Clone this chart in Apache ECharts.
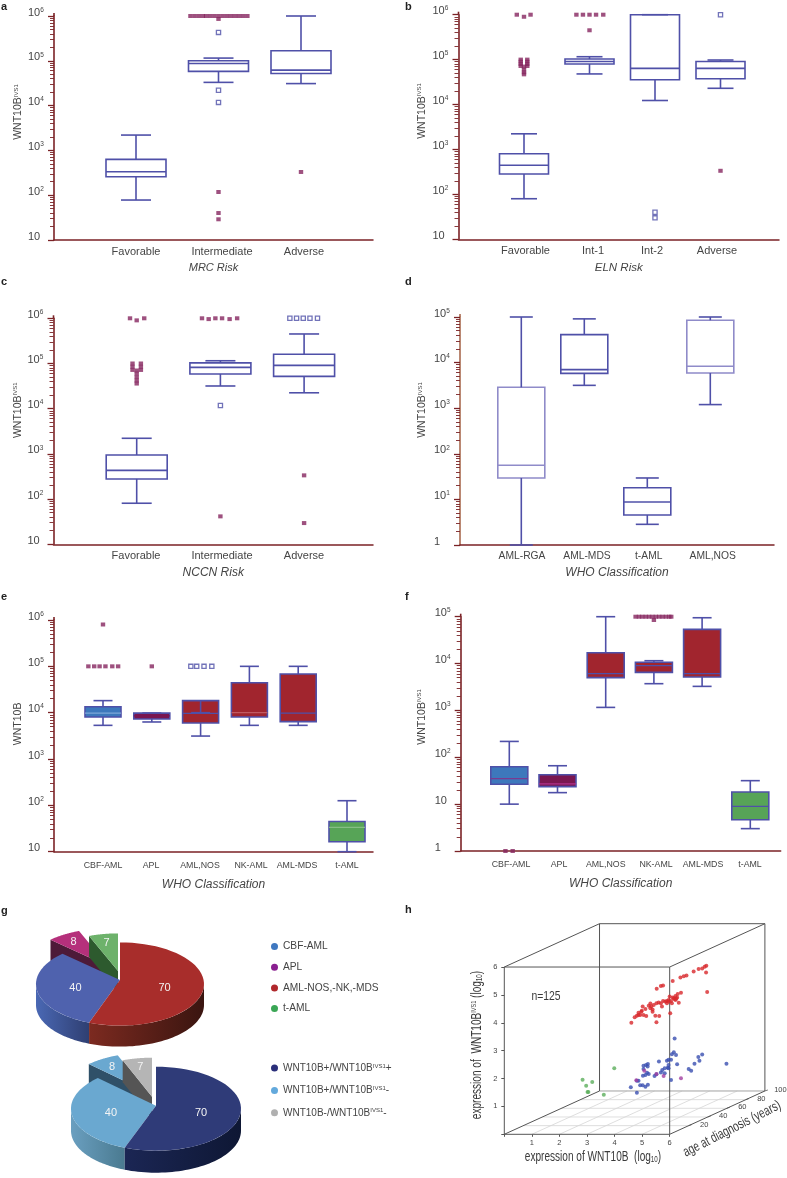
<!DOCTYPE html>
<html><head><meta charset="utf-8">
<style>html,body{margin:0;padding:0;background:#fff}#c{width:787px;height:1178px}</style>
<script src="https://cdn.jsdelivr.net/npm/echarts@6/dist/echarts.min.js"></script>
</head><body><div id="c"></div>
<script>
// ---- Panel a
const catsA=['Favorable','Intermediate','Adverse'];
const boxA=[[1,78,258,335,630,2200],[2,33000,58000,87000,100000,115000],[3,31000,52000,62000,168000,1000000]];
const filledA=[[1.66,1e6],[1.71,1e6],[1.76,1e6],[1.81,1e6],[1.85,1e6],[1.9,1e6],[1.95,1e6],[2,860000],[2,1e6],[2.05,1e6],[2.1,1e6],[2.15,1e6],[2.2,1e6],[2.25,1e6],[2.3,1e6],[2.35,1e6],[2,118],[2,40],[2,29],[3,330]];
const openA=[[2,430000],[2,22000],[2,11800]];
// ---- Panel b
const catsB=['Favorable','Int-1','Int-2','Adverse'];
const boxB=[[1,80,284,444,805,2230],[2,48000,80000,91000,103000,116000],[3,12300,35500,64000,1000000,1000000],[4,23000,37500,64000,91000,98000]];
const filledB=[[0.89,1e6],[1,900000],[1.1,1e6],[0.95,100000],[0.95,90000],[0.95,80000],[0.95,72000],[1.05,100000],[1.05,90000],[1.05,80000],[1.05,72000],[1,70000],[1,60000],[1,52000],[1,47000],[1.8,1e6],[1.9,1e6],[2,1e6],[2.1,1e6],[2.21,1e6],[2,450000],[4,335]];
const openB=[[3,40],[3,30],[4,1e6]];
// ---- Panel c
const catsC=['Favorable','Intermediate','Adverse'];
const boxC=[[1,81,279,433,946,2215],[2,31800,58600,82000,103000,115000],[3,22500,52000,91000,160000,450000]];
const filledC=[[0.92,1e6],[1,900000],[1.09,1e6],[0.95,100000],[0.95,85000],[0.95,72000],[1.05,100000],[1.05,85000],[1.05,72000],[1,70000],[1,60000],[1,50000],[1,42000],[1,36000],[1.78,1e6],[1.86,960000],[1.94,1e6],[2.02,1e6],[2.11,960000],[2.2,1e6],[2,41.5],[3,335],[3,29.5]];
const openC=[[2,11800],[2.83,1e6],[2.91,1e6],[2.99,1e6],[3.07,1e6],[3.16,1e6]];
// ---- Panel d
const catsD=['AML-RGA','AML-MDS','t-AML','AML,NOS'];
const boxD=[[1,1,29.5,56,2870,100000],[2,3170,5800,7000,41000,91000],[3,2.84,4.55,8.8,18,29.5],[4,1200,5900,8300,85000,100000]];
// ---- Panel e
const catsE=['CBF-AML','APL','AML,NOS','NK-AML','AML-MDS','t-AML'];
const boxE=[[1,5330,8050,9800,13400,18200],[2,6300,7300,8500,9800,9800],[3,3130,6000,9700,18200,10000],[4,5330,8050,10000,44400,100000],[5,5330,6400,9800,68400,100000],[6,10,16.4,33.5,45,126]];
const filledE=[[1,800000],[0.7,1e5],[0.82,1e5],[0.93,1e5],[1.05,1e5],[1.19,1e5],[1.31,1e5],[2,1e5]];
const openE=[[2.8,1e5],[2.92,1e5],[3.07,1e5],[3.23,1e5]];
// ---- Panel f
const catsF=['CBF-AML','APL','AML,NOS','NK-AML','AML-MDS','t-AML'];
const boxF=[[1,10,26.5,35,63,218],[2,17.6,23.6,27,42.5,66],[3,1160,5000,6080,17000,1e5],[4,3720,6480,9000,10700,11500],[5,3260,5160,6080,53700,95000],[6,3,4.66,9,18.2,31.7]];
const filledF=[[0.92,1],[1.07,1],[3.62,1e5],[3.69,1e5],[3.76,1e5],[3.83,1e5],[3.9,1e5],[3.97,1e5],[4.04,1e5],[4.11,1e5],[4.18,1e5],[4.25,1e5],[4.32,1e5],[4.36,1e5],[4,85000]];
// ---- Panel g
const pieValues=[70,40,8,7];
const pieNamesTop=['AML-NOS,-NK,-MDS','CBF-AML','APL','t-AML'];
const pieNamesBottom=['WNT10B+/WNT10BIVS1+','WNT10B+/WNT10BIVS1-','WNT10B+/WNT10BIVS1-','WNT10B-/WNT10BIVS1-'];
// ---- Panel h (values read on the front face scale of the projected cube)
const hRed=[[7.33,6.05],[7.27,6.01],[7.18,5.95],[7.05,5.93],[6.87,5.84],[6.61,5.7],[6.51,5.67],[6.39,5.62],[6.11,5.5],[5.76,5.34],[5.68,5.32],[5.53,5.22],[7.32,5.8],[7.36,5.1],[6.41,5.08],[6.29,5.03],[6.21,4.96],[6.27,4.91],[6.11,4.91],[6.17,4.85],[6,4.94],[5.96,4.82],[6.05,4.78],[6.21,4.82],[6.33,4.72],[6.08,4.7],[5.96,4.76],[5.84,4.76],[5.76,4.78],[5.9,4.7],[5.6,4.73],[5.52,4.7],[5.42,4.64],[5.3,4.69],[5.33,4.58],[5.24,4.61],[5.38,4.48],[5.3,4.52],[5.12,4.49],[5.02,4.58],[4.99,4.43],[4.87,4.36],[5.05,4.28],[4.93,4.28],[4.81,4.25],[4.73,4.2],[4.61,4],[5.15,4.24],[5.48,4.25],[5.62,4.24],[5.52,4.02],[5.72,4.58],[6.02,4.34],[5.38,4.4],[4.87,4.28],[4.97,4.4],[6.15,4.88],[6.24,4.86],[5.9,4.78],[5.68,4.7]];
const hBlue=[[6.18,3.44],[6.15,2.94],[6.08,2.87],[6.23,2.84],[5.96,2.67],[6.05,2.67],[5.9,2.64],[5.61,2.61],[6.27,2.51],[5.21,2.52],[5.14,2.49],[5.05,2.46],[5.2,2.43],[5.05,2.34],[7.18,2.86],[7.04,2.77],[7.08,2.64],[6.9,2.53],[8.06,2.53],[6.69,2.34],[6.78,2.28],[5.96,2.49],[5.93,2.39],[5.82,2.37],[5.73,2.31],[5.68,2.22],[5.82,2.19],[5.96,2.37],[5.18,2.21],[5.24,2.16],[5.12,2.13],[5.03,2.1],[5.45,2.09],[5.52,2.15],[6.05,1.95],[4.87,1.92],[4.81,1.92],[5.21,1.78],[5.12,1.71],[5.02,1.76],[4.93,1.76],[4.59,1.69],[4.81,1.49]];
const hPurple=[[5.08,2.28],[5.52,2.16],[5.78,2.09],[6.41,2.01],[4.79,1.94]];
const hGreen=[[3.99,2.37],[2.84,1.96],[3.19,1.88],[2.97,1.74],[3.02,1.52],[3.05,1.52],[3.61,1.42]];
const hTicks=[1,2,3,4,5,6];
const ageTicks=[20,40,60,80,100];

// ---- styling / layout
const AX='#7b2226', BLUE='#4f50a8', LIGHT='#8f8bc9', TXT='#454545', PUR='#86265f';
const panels=[
 {cats:catsA,box:boxA,filled:filledA,open:openA,yName:'WNT10B{s|IVS1}',title:'MRC Risk',left:54,top:16,w:319,h:224,c0:136,sp:82.5,labels:[136,222,304],bw:60,cw:30,lo:1,hi:6,fs:11,tfs:11,tgap:22,plain10:true,yGap:28,yUp:16},
 {cats:catsB,box:boxB,filled:filledB,open:openB,yName:'WNT10B{s|IVS1}',title:'ELN Risk',left:458.5,top:14.7,w:320.5,h:224.6,c0:524,sp:65.5,labels:[525.5,593,652,717],bw:49,cw:26,lo:1,hi:6,fs:11,tfs:11.5,tgap:22,plain10:true,yGap:31,yUp:16},
 {cats:catsC,box:boxC,filled:filledC,open:openC,yName:'WNT10B{s|IVS1}',title:'NCCN Risk',left:53.5,top:318.3,w:319.5,h:226,c0:136.7,sp:83.7,labels:[136,222,304],bw:61,cw:30,lo:1,hi:6,fs:11,tfs:12,tgap:22,plain10:true,yGap:28,yUp:21},
 {cats:catsD,box:boxD,filled:[],open:[],yName:'WNT10B{s|IVS1}',title:'WHO Classification',left:460,top:317,w:314,h:228,c0:521.3,sp:63,labels:[522,587,648.7,712.7],bw:47,cw:23,lo:0,hi:5,fs:10.3,tfs:12,tgap:22,plain10:false,yGap:32,yUp:21,strokes:[LIGHT,BLUE,BLUE,LIGHT],yLine:'#a9694f'},
 {cats:catsE,box:boxE,filled:filledE,open:openE,yName:'WNT10B',title:'WHO Classification',left:54,top:620,w:319,h:231.7,c0:103,sp:48.8,labels:[103,151,200,251,297,347],bw:36,cw:19,lo:1,hi:6,fs:8.8,tfs:12,tgap:27,plain10:true,yGap:28,yUp:12,fills:['#3d78bc','#7a1650','#a1252e','#a1252e','#a1252e','#57a457'],medians:['#7ea8d8','#7a1650',BLUE,'#c05a62',BLUE,'#86bd85']},
 {cats:catsF,box:boxF,filled:filledF,open:[],yName:'WNT10B{s|IVS1}',title:'WHO Classification',left:460.7,top:616.7,w:320,h:234.3,c0:509.3,sp:48.2,labels:[511,559,605.7,656,703,750],bw:37,cw:19,lo:0,hi:5,fs:8.8,tfs:12,tgap:27,plain10:true,yGap:33,yUp:17,fills:['#3d78bc','#7a1650','#a1252e','#a1252e','#a1252e','#57a457'],medians:['#7a3a90','#b0308a',BLUE,BLUE,BLUE,BLUE]}
];
const grid=[],xAxis=[],yAxis=[],series=[];
const supRich={s:{fontSize:6.5,fill:TXT,color:TXT,verticalAlign:'top',padding:[0,0,5,0]}};

function boxRenderer(p,xmin){
 return function(params,api){
  const i=params.dataIndex, x=api.value(0);
  const P=v=>api.coord([x,v]);
  const lo=P(api.value(1)),q1=P(api.value(2)),md=P(api.value(3)),q3=P(api.value(4)),hi=P(api.value(5));
  const cx=lo[0],hb=p.bw/2,hc=p.cw/2;
  const fill=p.fills?p.fills[i]:'none';
  const stroke=p.strokes?p.strokes[i]:BLUE;
  const line=(x1,y1,x2,y2,c,w)=>({type:'line',shape:{x1,y1,x2,y2},style:{stroke:c,lineWidth:w||1.6,fill:'none'}});
  const ch=[
   {type:'rect',shape:{x:cx-hb,y:q3[1],width:p.bw,height:q1[1]-q3[1]},style:{fill:fill==='none'?'rgba(0,0,0,0)':fill,stroke:p.fills?BLUE:stroke,lineWidth:1.6}},
   line(cx-hb,md[1],cx+hb,md[1],p.medians?p.medians[i]:stroke,p.medians?1.2:1.6),
   line(cx,lo[1],cx,q1[1],BLUE),line(cx,q3[1],cx,hi[1],BLUE),
   line(cx-hc,lo[1],cx+hc,lo[1],BLUE),line(cx-hc,hi[1],cx+hc,hi[1],BLUE)
  ];
  if(i===0){const t=api.coord([xmin,Math.pow(10,p.hi)]);ch.push(line(t[0],t[1],t[0],t[1]-3,p.yLine||AX,1.6));}
  return {type:'group',children:ch};
 };
}
const decades=(lo,hi)=>{const o=[];for(let d=lo;d<hi;d++)for(let k=2;k<=9;k++)o.push(d+Math.log10(k));return o;};

panels.forEach((p,i)=>{
 grid.push({left:p.left,top:p.top,width:p.w,height:p.h});
 const xmin=1-(p.c0-p.left)/p.sp, xmax=xmin+p.w/p.sp;
 const lab=p.labels.map(px=>xmin+(px-p.left)/p.sp);
 xAxis.push({gridIndex:i,type:'value',min:xmin,max:xmax,splitLine:{show:false},
  axisLine:{onZero:false,lineStyle:{color:AX,width:1.5}},axisTick:{show:false},
  axisLabel:{customValues:lab,color:TXT,fontSize:p.fs,margin:p.fs<10?9:6,hideOverlap:false,showMinLabel:true,showMaxLabel:true,
   formatter:v=>{let b=0,d=1e9;lab.forEach((l,k)=>{if(Math.abs(l-v)<d){d=Math.abs(l-v);b=k;}});return p.cats[b];}},
  name:p.title,nameLocation:'middle',nameGap:p.tgap,
  nameTextStyle:{color:TXT,fontStyle:'italic',fontSize:p.tfs}});
 const yi=yAxis.length;
 yAxis.push({gridIndex:i,type:'log',position:'left',logBase:10,min:Math.pow(10,p.lo),max:Math.pow(10,p.hi),splitLine:{show:false},
  axisLine:{onZero:false,lineStyle:{color:p.yLine||AX,width:1.6}},axisTick:{length:6,lineStyle:{color:AX,width:1.3}},minorTick:{show:false},
  axisLabel:{color:TXT,fontSize:11,align:'left',margin:26,padding:[0,0,7,0],rich:supRich,showMinLabel:true,showMaxLabel:true,hideOverlap:false,
   formatter:v=>{const e=Math.round(Math.log10(v));if(e===0)return '1';if(e===1&&p.plain10)return '10';return '10{s|'+e+'}';}},
  name:p.yName,nameLocation:'middle',nameRotate:90,nameGap:p.yGap,
  nameTextStyle:{color:TXT,fontSize:10.5,padding:[0,0,0,p.yUp*2],rich:{s:{fontSize:6,color:TXT,verticalAlign:'top'}}}});
 yAxis.push({gridIndex:i,type:'value',position:'left',min:p.lo,max:p.hi,splitLine:{show:false},axisLine:{show:false,onZero:false},axisLabel:{show:false},
  axisTick:{show:true,length:4,customValues:decades(p.lo,p.hi),lineStyle:{color:AX,width:0.9}}});
 series.push({type:'custom',name:'box'+i,xAxisIndex:i,yAxisIndex:yi,clip:false,silent:true,encode:{x:0,y:[1,2,3,4,5]},data:p.box,renderItem:boxRenderer(p,xmin)});
 if(p.filled.length)series.push({type:'scatter',xAxisIndex:i,yAxisIndex:yi,clip:false,silent:true,symbol:'rect',symbolSize:[4.4,4],itemStyle:{color:PUR},data:p.filled,z:3});
 if(p.open.length)series.push({type:'scatter',xAxisIndex:i,yAxisIndex:yi,clip:false,silent:true,symbol:'rect',symbolSize:4.2,itemStyle:{color:'#fff',borderColor:BLUE,borderWidth:1.3},data:p.open,z:3});
});

// ---- pies (panel g)
const pies=[
 {cx:120,cy:984,apexDy:-4,rx:84,ry:41.6,depth:21,names:pieNamesTop,shifts:[[0,0],[0,0],[-12,-14],[-2,-9]],
  colors:['#a82d2b','#4f62ae','#b5307b','#6db26b'],sides:[['#7c2a20','#3a1510'],['#4a68b4','#2f3f72'],null,null],walls:[null,null,'#4d1a38','#2d5a2e'],legend:['#b0282c','#3f78c0','#8a2090','#3aa655']},
 {cx:156,cy:1108.7,apexDy:-3,rx:85,ry:42,depth:22,names:pieNamesBottom,shifts:[[0,0],[0,0],[-9,-14],[-4,-9]],
  colors:['#2f3b78','#6aa8d0','#6aa8d0','#b5b5b5'],sides:[['#1b2654','#0e1734'],['#6a9fc0','#4a7a90'],null,null],walls:[null,null,'#2f5068','#555555'],legend:['#2a2f7a','#63a9dc','#63a9dc','#b0b0b0']}
];
const total=pieValues.reduce((a,b)=>a+b,0);
function pieRenderer(pie,i){
 return function(params,api){
  let before=0;for(let k=0;k<i;k++)before+=pieValues[k];
  const a0=before/total*2*Math.PI,a1=(before+api.value(0))/total*2*Math.PI;
  const [sx,sy]=pie.shifts[i];
  const pt=t=>[pie.cx+sx+pie.rx*Math.sin(t),pie.cy+sy-pie.ry*Math.cos(t)];
  const arc=(s,e)=>{const o=[];const n=48;for(let k=0;k<=n;k++)o.push(pt(s+(e-s)*k/n));return o;};
  const apex=[pie.cx+sx,pie.cy+sy+pie.apexDy];
  const ch=[];
  if(pie.walls[i]){
   const c=pt(a0);
   ch.push({type:'polygon',shape:{points:[c,[c[0],c[1]+pie.depth],[apex[0],apex[1]+pie.depth],apex]},style:{fill:pie.walls[i]}});
  }
  if(pie.sides[i]){
   const s=Math.max(a0,Math.PI/2),e=Math.min(a1,1.5*Math.PI);
   if(e>s){
    const up=arc(s,e),down=up.slice().reverse().map(q=>[q[0],q[1]+pie.depth]);
    ch.push({type:'polygon',shape:{points:up.concat(down)},style:{fill:{type:'linear',x:0,y:0,x2:1,y2:0,colorStops:[{offset:0,color:pie.sides[i][0]},{offset:1,color:pie.sides[i][1]}]}}});
   }
  }
  ch.push({type:'polygon',shape:{points:[apex].concat(arc(a0,a1))},style:{fill:pie.colors[i]}});
  const mid=(a0+a1)/2,f=(sx||sy)?0.78:0.54;
  ch.push({type:'text',style:{text:String(api.value(0)),x:pie.cx+sx+pie.rx*f*Math.sin(mid),y:pie.cy+sy-pie.ry*f*Math.cos(mid),fill:'#f4f4f4',fontSize:11,fontFamily:'Liberation Sans',textAlign:'center',textVerticalAlign:'middle'}});
  return {type:'group',children:ch};
 };
}
pies.forEach(pie=>{[2,3,1,0].forEach(i=>{
 series.push({type:'custom',coordinateSystem:'none',name:pie.names[i],silent:true,itemStyle:{color:pie.legend[i]},data:[pieValues[i]],renderItem:pieRenderer(pie,i)});
});});
const legFmt=n=>n.replace('IVS1','{s|IVS1}');
const legend=[
 {left:266,top:936.5,orient:'vertical',icon:'circle',itemWidth:7,itemHeight:7,itemGap:10.7,selectedMode:false,
  data:['CBF-AML','APL','AML-NOS,-NK,-MDS','t-AML'],textStyle:{color:TXT,fontSize:10.2}},
 {left:266,top:1058,orient:'vertical',icon:'circle',itemWidth:7,itemHeight:7,itemGap:12.4,selectedMode:false,formatter:legFmt,
  data:['WNT10B+/WNT10BIVS1+','WNT10B+/WNT10BIVS1-','WNT10B-/WNT10BIVS1-'],textStyle:{color:TXT,fontSize:10,rich:{s:{fontSize:6,color:TXT,verticalAlign:'top'}}}}
];

// ---- 3D-looking cube (panel h): drawn on a flat grid whose axes use the front face scale
const DX=3.455,DY=1.554,XMAX=6+DX,YMAX=6+DY,hIdx=grid.length;
grid.push({left:504.3,top:923.7,width:260.6,height:210.6});
const hx=xAxis.length;
xAxis.push({gridIndex:hIdx,type:'value',min:0,max:XMAX,splitLine:{show:false},axisLine:{show:false,onZero:false},
 axisTick:{show:true,customValues:[0].concat(hTicks),length:2.5,lineStyle:{color:'#555'}},
 axisLabel:{customValues:hTicks,fontSize:7.5,color:'#444',margin:5,formatter:v=>String(v)}});
const hy=yAxis.length;
yAxis.push({gridIndex:hIdx,type:'value',min:0,max:YMAX,splitLine:{show:false},axisLine:{show:false,onZero:false},
 axisTick:{show:true,customValues:[0].concat(hTicks),length:3,lineStyle:{color:'#555'}},
 axisLabel:{customValues:hTicks,fontSize:7.5,color:'#444',margin:7,formatter:v=>String(v)}});
series.push({type:'custom',xAxisIndex:hx,yAxisIndex:hy,clip:false,silent:true,data:[[0,0]],encode:{x:0,y:1},z:1,
 renderItem:function(params,api){
  const ch=[];
  const L=(a,b,c,w)=>{const p=api.coord(a),q=api.coord(b);ch.push({type:'line',shape:{x1:p[0],y1:p[1],x2:q[0],y2:q[1]},style:{stroke:c,lineWidth:w,fill:'none'}});};
  hTicks.slice(0,5).forEach(t=>L([t,0],[t+DX,DY],'#d6d6d6',0.8));
  ageTicks.forEach(a=>{const f=a/100;L([f*DX,f*DY],[6+f*DX,f*DY],'#d6d6d6',0.8);});
  L([DX,DY],[6+DX,DY],'#aaa',0.9);
  const E='#555';
  L([0,0],[6,0],E,1);L([0,0],[0,6],E,1);L([0,6],[6,6],E,1);L([6,0],[6,6],E,1);
  L([DX,DY],[DX,6+DY],E,1);L([DX,6+DY],[6+DX,6+DY],E,1);L([6+DX,DY],[6+DX,6+DY],E,1);
  L([0,0],[DX,DY],E,1);L([0,6],[DX,6+DY],E,1);L([6,6],[6+DX,6+DY],E,1);L([6,0],[6+DX,DY],E,1);
  ageTicks.forEach(a=>{const f=a/100,q=api.coord([6+f*DX,f*DY]);
   ch.push({type:'line',shape:{x1:q[0],y1:q[1],x2:q[0]+3,y2:q[1]-1},style:{stroke:E,lineWidth:0.8}});
   ch.push({type:'text',style:{text:String(a),x:q[0]+15.5,y:q[1]-1,fill:'#444',fontSize:7.5,fontFamily:'Liberation Sans',textAlign:'center',textVerticalAlign:'middle'}});
  });
  return {type:'group',children:ch};
 }});
[[hGreen,'#5bae5b'],[hBlue,'#3a4fb0'],[hPurple,'#a23fa0'],[hRed,'#d8282c']].forEach(([d,c])=>{
 series.push({type:'scatter',xAxisIndex:hx,yAxisIndex:hy,clip:false,silent:true,symbolSize:4,itemStyle:{color:c},data:d,z:4});
});

const letter=(t,x,y)=>({type:'text',left:x,top:y,style:{text:t,font:'bold 11px "Liberation Sans"',fill:'#222'}});
const narrow=(t,x,y,size,rot,sc)=>({type:'text',x:x,y:y,rotation:rot||0,scaleX:sc||0.72,style:{text:t,x:0,y:0,align:'center',verticalAlign:'middle',fontFamily:'Liberation Sans',fontSize:size,fill:'#3a3a3a',
  rich:{s:{fontSize:size*0.55,fill:'#3a3a3a',verticalAlign:'top'},b:{fontSize:size*0.62,fill:'#3a3a3a',verticalAlign:'bottom'}}}});
const graphic=[
 letter('a',1,1),letter('b',405,1),letter('c',1,276),letter('d',405,276),letter('e',1,591),letter('f',405,591),letter('g',1,905),letter('h',405,904),
 narrow('n=125',546,996,13.5,0,0.77),
 narrow('expression of WNT10B  (log{b|10})',593,1157,14),
 narrow('expression of  WNT10B{s|IVS1} (log{b|10})',477,1045,14,Math.PI/2),
 narrow('age at diagnosis (years)',732,1129,14,27*Math.PI/180)
];

const chart=echarts.init(document.getElementById('c'),null,{renderer:'canvas'});
chart.setOption({animation:false,backgroundColor:'#fff',textStyle:{fontFamily:'Liberation Sans'},grid,xAxis,yAxis,legend,series,graphic});
</script></body></html>
